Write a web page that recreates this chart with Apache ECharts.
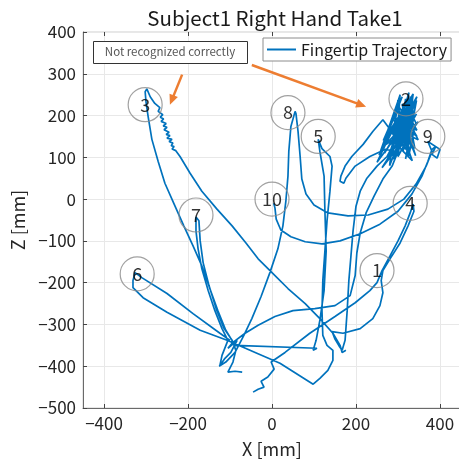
<!DOCTYPE html>
<html>
<head>
<meta charset="utf-8">
<script src="https://cdn.jsdelivr.net/npm/echarts@6/dist/echarts.min.js"></script>
<style>html,body{margin:0;padding:0;background:#fff;}#c{width:459px;height:461px;}</style>
</head>
<body>
<div id="c"></div>
<script>
// ---- data (mm) ----
const xTicks = [-400, -200, 0, 200, 400];
const zTicks = [-500, -400, -300, -200, -100, 0, 100, 200, 300, 400];

const targetNames = ['1','2','3','4','5','6','7','8','9','10'];
const targetX = [250, 319, -302, 329, 110, -321, -181, 38, 371, 0];
const targetZ = [-171, 240, 226, -10, 150, -179, -38, 207, 150, 0];

// trajectory strokes [x, z]
const stroke1 = [[-45,-462],[-33,-455],[-19,-450],[-26,-436],[-10,-426],[5,-407],[-2,-390],[31,-367],[90,-321],[150,-281],[198,-248],[233,-219],[250,-200]];
const stroke2 = [[262,-171],[281,-136],[300,-100],[317,-64],[329,-33],[336,-12],[338,-29],[324,-64],[305,-105],[281,-143],[264,-171],[260,-195],[264,-224],[257,-255],[240,-286],[210,-310],[169,-321],[143,-317],[150,-335],[160,-352],[167,-362],[174,-338],[179,-267],[183,-195],[188,-136],[193,-76],[200,-17],[210,19],[226,50],[250,79],[274,102],[293,138],[305,174]];
const stroke3 = [[305,174],[330,245],[318,150],[340,215],[300,118],[336,252],[322,130],[290,190],[345,165],[310,228],[328,108],[296,150],[338,198],[318,96],[344,236],[305,205],[332,140],[284,172],[340,122],[318,240],[300,102],[343,182],[325,218],[292,135],[334,92],[310,160],[348,142],[320,200],[278,150],[338,228],[312,115],[330,178],[298,212],[342,104],[316,186],[286,122],[334,156],[306,140],[344,204],[322,165],[270,130],[300,190],[335,120],[315,215],[290,160],[340,175],[325,100],[300,225],[345,150],[312,175],
  [260,120],[320,230],[275,95],[335,250],[265,140],[310,245],[255,105],[300,235],[280,80],[330,210],[268,110],[345,245],[290,95],[325,190],[250,88],[315,225],[285,130],[340,200],[272,150],[305,250],[295,110],[348,185],[262,75],[320,168],[288,200],[336,135],[276,170],[318,120],[298,160],[342,230],[283,105],[326,255],[308,130]];
const stroke4 = [[264,190],[240,162],[217,131],[190,102],[174,79],[164,55],[162,43],[171,38],[176,50],[198,79],[233,102],[269,119],[300,114],[286,79],[264,48],[243,7],[224,-33],[210,-81],[202,-129],[198,-183],[186,-231],[150,-255],[102,-262],[50,-267],[7,-281],[-33,-302],[-64,-321],[-93,-343]];
const stroke5 = [[-105,-357],[-83,-338],[-98,-367],[-112,-381],[-124,-398],[-119,-374],[-105,-338],[-119,-310],[-136,-267],[-152,-219],[-167,-167],[-176,-119],[-181,-76],[-181,-43],[-174,-52],[-171,-100],[-164,-152],[-150,-207],[-133,-262],[-114,-310],[-95,-338],[-86,-362],[-93,-390],[-105,-414],[-88,-412],[-71,-414]];
const stroke6 = [[-100,-338],[-124,-321],[-188,-274],[-250,-226],[-310,-188],[-326,-176],[-331,-195],[-331,-212],[-307,-236],[-250,-271],[-171,-314],[-107,-338],[-36,-369],[19,-393],[98,-443],[114,-429],[133,-410],[145,-386],[145,-362],[131,-350],[121,-326],[119,-267],[121,-195],[126,-124],[131,-52],[138,19],[143,79],[138,102],[119,121],[110,143],[114,114],[124,55],[126,-29],[129,-124],[124,-219],[114,-290],[105,-338],[98,-362],[107,-357]];
const stroke7 = [[-88,-350],[-110,-314],[-129,-267],[-148,-214],[-167,-160],[-188,-112],[-210,-64],[-233,-12],[-255,38],[-271,90],[-286,143],[-295,198],[-300,233],[-302,257],[-298,264],[-290,245],[-279,229],[-267,219],[-271,210],[-260,202],[-266,196],[-258,192],[-264,186],[-252,181],[-259,175],[-250,172],[-257,166],[-245,160],[-252,155],[-243,152],[-250,146],[-238,143],[-245,138],[-236,134],[-240,128],[-233,126],[-238,120],[-229,116],[-219,102],[-195,62],[-167,19],[-131,-24],[-95,-64],[-62,-105],[-33,-143],[0,-176],[38,-214],[79,-250],[114,-286],[145,-321],[162,-350],[167,-367],[176,-362]];
const stroke8 = [[-126,-400],[-110,-390],[-88,-367],[-67,-326],[-48,-286],[-26,-233],[-5,-176],[14,-119],[26,-64],[33,-5],[38,55],[40,114],[45,174],[55,210],[57,205],[62,162],[67,102],[71,48],[81,12],[100,-14],[133,-33],[181,-40],[229,-38],[276,-24],[314,0],[343,36],[367,79],[381,114],[371,138],[400,119],[393,98],[381,107],[390,126],[381,119],[371,90],[357,55],[333,12],[300,-29],[257,-60],[210,-83],[162,-100],[119,-107],[79,-102],[45,-90],[21,-74],[10,-48],[7,-21],[4,-10]];

// annotation arrows [x0, z0, x1, z1]
const arrow1 = [-214, 298, -243, 226];
const arrow2 = [-48, 321, 224, 221];

const strokes = [stroke1, stroke2, stroke3, stroke4, stroke5, stroke6, stroke7, stroke8];
const breakAfter = [false, false, false, false, true, false, true, false];
const traj = [];
strokes.forEach((s, i) => {
  s.forEach(p => traj.push(p));
  if (breakAfter[i]) traj.push([null, null]);
});

const FONT = '"Noto Sans CJK JP", "Noto Sans", sans-serif';
const minus = v => String(v).replace('-', '\u2212');

const chart = echarts.init(document.getElementById('c'), null, {renderer: 'canvas'});
const axisLineStyle = {show: true, onZero: false, lineStyle: {color: '#6a6a6a', width: 1}};
const splitLineStyle = {show: true, lineStyle: {color: '#e8e8e8', width: 1}};
chart.setOption({
  animation: false,
  backgroundColor: '#fff',
  title: {
    text: 'Subject1 Right Hand Take1',
    left: 270, top: 3, textAlign: 'center',
    textStyle: {fontFamily: FONT, fontSize: 20.5, fontWeight: 'normal', color: '#1a1a1a'}
  },
  grid: {left: 83, top: 32, width: 378, height: 376, outerBoundsMode: 'none', containLabel: false, show: true, borderColor: '#cfcfcf', borderWidth: 1, backgroundColor: 'transparent'},
  legend: {
    data: [{name: 'Fingertip Trajectory', icon: 'rect'}],
    left: 263, top: 38,
    padding: [2, 4, 2, 4],
    itemWidth: 29, itemHeight: 2,
    borderColor: '#8c8c8c', borderWidth: 1, backgroundColor: '#fff',
    textStyle: {fontFamily: FONT, fontSize: 16, color: '#1a1a1a', lineHeight: 19}
  },
  xAxis: [
    {
      type: 'value', min: -450, max: 450, position: 'bottom',
      name: 'X [mm]', nameLocation: 'middle', nameGap: 32,
      nameTextStyle: {fontFamily: FONT, fontSize: 18, color: '#262626'},
      axisLine: axisLineStyle, splitLine: splitLineStyle,
      axisTick: {show: true, inside: true, length: 4, lineStyle: {color: '#444'}, customValues: xTicks},
      axisLabel: {customValues: xTicks, formatter: minus, margin: 7, fontFamily: FONT, fontSize: 17, color: '#262626'}
    },
    {
      type: 'value', min: -450, max: 450, position: 'top',
      axisLine: {show: false, onZero: false},
      axisTick: {show: true, inside: true, length: 4, lineStyle: {color: '#444'}, customValues: xTicks},
      axisLabel: {show: false}, splitLine: {show: false}
    }
  ],
  yAxis: {
    type: 'value', min: -500, max: 400, interval: 100,
    name: 'Z [mm]', nameLocation: 'middle', nameGap: 42,
    nameTextStyle: {fontFamily: FONT, fontSize: 18, color: '#262626'},
    axisLine: axisLineStyle, splitLine: splitLineStyle,
    axisTick: {show: true, inside: true, length: 4, lineStyle: {color: '#444'}},
    axisLabel: {formatter: minus, margin: 7, fontFamily: FONT, fontSize: 17, color: '#262626'}
  },
  series: [
    {
      name: 'Fingertip Trajectory', type: 'line',
      data: traj, symbol: 'none', connectNulls: false,
      lineStyle: {color: '#0072BD', width: 1.7},
      itemStyle: {color: '#0072BD'},
      z: 3
    },
    {
      name: 'targets', type: 'scatter',
      data: targetNames.map((n, i) => ({name: n, value: [targetX[i], targetZ[i]]})),
      symbol: 'circle', symbolSize: 34,
      itemStyle: {color: 'rgba(0,0,0,0)', borderColor: '#8a8a8a', borderWidth: 1.2},
      label: {show: true, position: 'inside', formatter: '{b}', fontFamily: FONT, fontSize: 18, color: '#000'},
      z: 4, silent: true
    }
  ]
});

// arrows placed via the chart's own coordinate conversion
function arrowGraphic(a, id) {
  const p0 = chart.convertToPixel({gridIndex: 0}, [a[0], a[1]]);
  const p1 = chart.convertToPixel({gridIndex: 0}, [a[2], a[3]]);
  const dx = p1[0] - p0[0], dy = p1[1] - p0[1];
  const L = Math.sqrt(dx * dx + dy * dy);
  const ux = dx / L, uy = dy / L;
  const head = 10, half = 4.5;
  const bx = p1[0] - ux * head, by = p1[1] - uy * head;
  return [
    {type: 'line', id: id + 'l', shape: {x1: p0[0], y1: p0[1], x2: bx + ux * 1, y2: by + uy * 1}, style: {stroke: '#ED7D31', lineWidth: 2.5}, z: 20},
    {type: 'polygon', id: id + 'h', shape: {points: [[p1[0], p1[1]], [bx - uy * half, by + ux * half], [bx + uy * half, by - ux * half]]}, style: {fill: '#ED7D31'}, z: 20}
  ];
}
chart.setOption({
  graphic: [
    {type: 'rect', id: 'box', left: 93, top: 41, shape: {width: 154, height: 22}, style: {fill: '#fff', stroke: '#333', lineWidth: 1}, z: 10},
    {type: 'text', id: 'boxt', x: 170, y: 52, style: {text: 'Not recognized correctly', fontFamily: FONT, fontSize: 11.5, fill: '#555', align: 'center', verticalAlign: 'middle'}, z: 11}
  ].concat(arrowGraphic(arrow1, 'a1'), arrowGraphic(arrow2, 'a2'))
});
</script>
</body>
</html>
